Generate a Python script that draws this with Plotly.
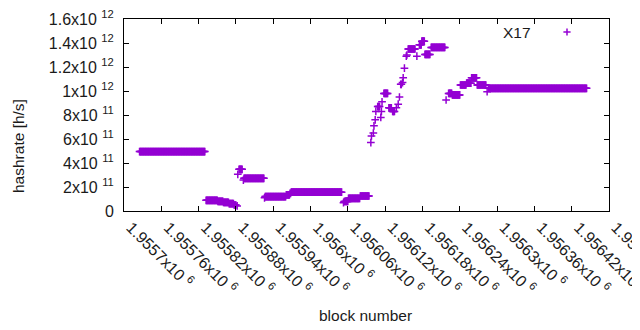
import numpy as np
import plotly.graph_objects as go

# Segments of consecutive blocks sharing (approximately) the same hashrate estimate
seg_start = [1955725, 1955832, 1955851, 1955860, 1955869, 1955877, 1955882, 1955883, 1955885,
             1955892, 1955893, 1955926, 1955927, 1955961, 1955967, 1955969, 1956053, 1956054,
             1956061, 1956080, 1956097, 1956098, 1956101, 1956102, 1956104, 1956105, 1956108,
             1956113, 1956114, 1956115, 1956118, 1956126, 1956132, 1956138, 1956141, 1956143,
             1956145, 1956148, 1956149, 1956151, 1956154, 1956155, 1956157, 1956171, 1956175,
             1956179, 1956184, 1956194, 1956218, 1956222, 1956228, 1956241, 1956251, 1956259,
             1956268, 1956284, 1956286]
seg_end = [1955830, 1955850, 1955859, 1955868, 1955876, 1955880, 1955882, 1955883, 1955890,
           1955892, 1955925, 1955926, 1955960, 1955966, 1955968, 1956050, 1956053, 1956060,
           1956079, 1956094, 1956097, 1956098, 1956101, 1956102, 1956104, 1956105, 1956111,
           1956113, 1956114, 1956115, 1956124, 1956130, 1956135, 1956138, 1956141, 1956143,
           1956146, 1956148, 1956149, 1956151, 1956154, 1956155, 1956168, 1956171, 1956178,
           1956183, 1956192, 1956216, 1956218, 1956227, 1956240, 1956250, 1956258, 1956267,
           1956282, 1956284, 1956444]
seg_hashrate = [4.95e11, 0.89e11, 0.81e11, 0.72e11, 0.61e11, 0.50e11, 0.42e11, 3.06e11, 3.47e11,
                2.58e11, 2.72e11, 1.10e11, 1.20e11, 1.35e11, 1.47e11, 1.57e11, 0.69e11, 0.79e11,
                1.06e11, 1.25e11, 5.7e11, 6.25e11, 6.5e11, 7.1e11, 7.6e11, 8.3e11, 8.7e11,
                7.8e11, 8.3e11, 9.1e11, 9.8e11, 8.6e11, 8.3e11, 8.6e11, 8.9e11, 9.5e11,
                10.56e11, 10.7e11, 11.1e11, 11.9e11, 12.9e11, 13.0e11, 13.5e11, 12.9e11, 13.85e11,
                14.15e11, 13.05e11, 13.63e11, 9.25e11, 9.8e11, 9.67e11, 10.5e11, 10.65e11, 11.1e11,
                10.5e11, 9.94e11, 10.22e11]

x_tick_vals = [1955700, 1955760, 1955820, 1955880, 1955940, 1956000, 1956060,
               1956120, 1956180, 1956240, 1956300, 1956360, 1956420, 1956480]
x_tick_text = ["1.9557x10 <sup>6</sup>", "1.95576x10 <sup>6</sup>", "1.95582x10 <sup>6</sup>",
               "1.95588x10 <sup>6</sup>", "1.95594x10 <sup>6</sup>", "1.956x10 <sup>6</sup>",
               "1.95606x10 <sup>6</sup>", "1.95612x10 <sup>6</sup>", "1.95618x10 <sup>6</sup>",
               "1.95624x10 <sup>6</sup>", "1.9563x10 <sup>6</sup>", "1.95636x10 <sup>6</sup>",
               "1.95642x10 <sup>6</sup>", "1.95648x10 <sup>6</sup>"]
y_tick_vals = [0, 2e11, 4e11, 6e11, 8e11, 1e12, 1.2e12, 1.4e12, 1.6e12]
y_tick_text = ["0", "2x10 <sup>11</sup>", "4x10 <sup>11</sup>", "6x10 <sup>11</sup>",
               "8x10 <sup>11</sup>", "1x10 <sup>12</sup>", "1.2x10 <sup>12</sup>",
               "1.4x10 <sup>12</sup>", "1.6x10 <sup>12</sup>"]

blocks = np.concatenate([np.arange(s, e + 1) for s, e in zip(seg_start, seg_end)])
hashrate = np.concatenate([np.full(e - s + 1, v) for s, e, v in zip(seg_start, seg_end, seg_hashrate)])

COLOR = "#9400d3"
FONT = "Liberation Sans, Arial, sans-serif"
FS = 15.5
TFS = 16
TXT = "#1a1a1a"

# page has an 8px body margin: figure is drawn at (8, 8)
OFF = 8
W, H = 640 - OFF, 330 - OFF
L, R, T, B = 124 - OFF, 31, 19 - OFF, H - (211 - OFF)
pw, ph = W - L - R, H - T - B

def px(xp):
    return (xp - OFF - L) / pw

def py(yp):
    return (H - B - (yp - OFF)) / ph

fig = go.Figure()
fig.add_trace(go.Scatter(
    x=blocks, y=hashrate, mode="markers", name="X17", showlegend=False,
    marker=dict(symbol="cross-thin", size=5.5, color=COLOR, line=dict(width=1.5, color=COLOR)),
))

axis_common = dict(showline=True, linecolor="black", linewidth=1, mirror="ticks",
                   ticks="inside", ticklen=5, tickcolor="black", tickwidth=1,
                   showgrid=False, zeroline=False, ticklabeloverflow="allow",
                   tickfont=dict(family=FONT, size=TFS, color=TXT))

fig.update_xaxes(range=[1955700, 1956480], tickmode="array", tickvals=x_tick_vals,
                 ticktext=x_tick_text, tickangle=45, ticklabelshift=7, **axis_common)
fig.update_yaxes(range=[0, 1.6e12], tickmode="array", tickvals=y_tick_vals,
                 ticktext=y_tick_text, ticklabelstandoff=6, **axis_common)

# legend key (gnuplot style: text then sample on the right)
lx, ly, arm = 567, 32, 3.6
fig.add_shape(type="line", xref="paper", yref="paper", x0=px(lx - arm), x1=px(lx + arm),
              y0=py(ly), y1=py(ly), line=dict(color=COLOR, width=1.5))
fig.add_shape(type="line", xref="paper", yref="paper", x0=px(lx), x1=px(lx),
              y0=py(ly - arm), y1=py(ly + arm), line=dict(color=COLOR, width=1.5))
fig.add_annotation(text="X17", xref="paper", yref="paper", x=px(533), y=py(32),
                   xanchor="right", yanchor="middle", showarrow=False,
                   font=dict(family=FONT, size=FS, color=TXT))

fig.add_annotation(text="hashrate [h/s]", xref="paper", yref="paper", x=px(18), y=py(146),
                   xanchor="center", yanchor="middle", textangle=-90, showarrow=False,
                   font=dict(family=FONT, size=FS, color=TXT))
fig.add_annotation(text="block number", xref="paper", yref="paper", x=px(365), y=py(315),
                   xanchor="center", yanchor="middle", showarrow=False,
                   font=dict(family=FONT, size=FS, color=TXT))

fig.update_layout(width=W, height=H, margin=dict(l=L, r=R, t=T, b=B, autoexpand=False),
                  paper_bgcolor="white", plot_bgcolor="white", showlegend=False)

fig.write_html("out.html")
